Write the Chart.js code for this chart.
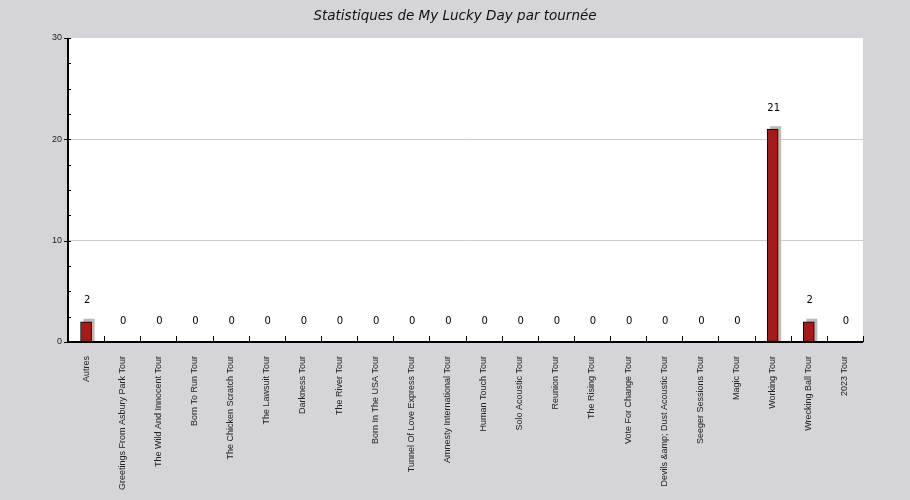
<!DOCTYPE html>
<html>
<head>
<meta charset="utf-8">
<script src="https://cdn.jsdelivr.net/npm/chart.js@4/dist/chart.umd.min.js"></script>
<style>
  html, body { margin: 0; padding: 0; background: #d5d4d9; }
  canvas { display: block; }
</style>
</head>
<body>
<canvas id="canvas" width="910" height="500"></canvas>
<script>
const tours = [
    'Autres', 'Greetings From Asbury Park Tour', 'The Wild And Innocent Tour', 'Born To Run Tour',
    'The Chicken Scratch Tour', 'The Lawsuit Tour', 'Darkness Tour', 'The River Tour',
    'Born In The USA Tour', 'Tunnel Of Love Express Tour', 'Amnesty International Tour',
    'Human Touch Tour', 'Solo Acoustic Tour', 'Reunion Tour', 'The Rising Tour',
    'Vote For Change Tour', 'Devils &amp; Dust Acoustic Tour', 'Seeger Sessions Tour',
    'Magic Tour', 'Working Tour', 'Wrecking Ball Tour', '2023 Tour'
];
const plays = [2, 0, 0, 0, 0, 0, 0, 0, 0, 0, 0, 0, 0, 0, 0, 0, 0, 0, 0, 21, 2, 0];
const yMax = 30;
const yStep = 10;
const yMinorStep = 2.5;

const tickFont = {family: 'Liberation Sans', size: 9};

// white plot area + small ticks + axis lines
const plotDecor = {
    id: 'plotDecor',
    beforeDraw: (chart) => {
        const {ctx, chartArea: a} = chart;
        ctx.save();
        ctx.fillStyle = '#ffffff';
        ctx.fillRect(a.left, a.top, a.right - a.left, a.bottom - a.top);
        ctx.restore();
    },
    afterDraw: (chart) => {
        const {ctx, chartArea: a} = chart;
        const x = chart.scales.x;
        const y = chart.scales.y;
        ctx.save();
        ctx.strokeStyle = '#000';
        ctx.lineWidth = 1;
        ctx.beginPath();
        // minor y ticks (inside)
        for (let v = 0; v <= yMax; v += yMinorStep) {
            const py = Math.round(y.getPixelForValue(v)) + 0.5;
            ctx.moveTo(a.left, py);
            ctx.lineTo(a.left + 3, py);
        }
        // major y ticks (outside)
        for (let v = 0; v <= yMax; v += yStep) {
            const py = Math.round(y.getPixelForValue(v)) + 0.5;
            ctx.moveTo(a.left - 4, py);
            ctx.lineTo(a.left, py);
        }
        // x ticks between categories (inside)
        for (let i = 0; i <= tours.length; i++) {
            const px = Math.round(x.getPixelForValue(i - 0.5)) + 0.5;
            ctx.moveTo(px, a.bottom);
            ctx.lineTo(px, a.bottom - 6);
        }
        ctx.stroke();
        ctx.lineWidth = 2;
        ctx.beginPath();
        ctx.moveTo(a.left, a.top);
        ctx.lineTo(a.left, a.bottom);
        ctx.lineTo(a.right, a.bottom);
        ctx.stroke();
        ctx.restore();
    }
};

// grey offset block behind each non-zero bar
const barShadow = {
    id: 'barShadow',
    beforeDatasetsDraw: (chart) => {
        const ctx = chart.ctx;
        const meta = chart.getDatasetMeta(0);
        ctx.save();
        ctx.fillStyle = '#bbbbbb';
        meta.data.forEach((bar, i) => {
            if (!plays[i]) return;
            const w = bar.width;
            ctx.fillRect(bar.x - w / 2 + 3, bar.y - 3, w, bar.base - bar.y + 3);
        });
        ctx.restore();
    }
};

// value labels above bars
const valueLabels = {
    id: 'valueLabels',
    afterDatasetsDraw: (chart) => {
        const ctx = chart.ctx;
        const meta = chart.getDatasetMeta(0);
        ctx.save();
        ctx.fillStyle = '#000';
        ctx.font = '10px "DejaVu Sans"';
        ctx.textAlign = 'center';
        ctx.textBaseline = 'middle';
        meta.data.forEach((bar, i) => {
            ctx.fillText(String(plays[i]), bar.x + 1, bar.y - 21);
        });
        ctx.restore();
    }
};

const ctx = document.getElementById('canvas').getContext('2d');
new Chart(ctx, {
    type: 'bar',
    data: {
        labels: tours,
        datasets: [{
            data: plays,
            backgroundColor: '#a8191a',
            borderColor: '#000000',
            borderWidth: 1,
            borderSkipped: false,
            barThickness: 11
        }]
    },
    options: {
        responsive: false,
        animation: false,
        devicePixelRatio: 1,
        layout: {padding: 0},
        plugins: {
            legend: {display: false},
            tooltip: {enabled: false},
            title: {
                display: true,
                text: 'Statistiques de My Lucky Day par tournée',
                color: '#111',
                font: {family: 'DejaVu Sans', size: 13.5, style: 'italic', weight: 'normal', lineHeight: 1.2},
                padding: {top: 8, bottom: 13.8}
            }
        },
        scales: {
            x: {
                grid: {display: false},
                border: {display: false},
                ticks: {
                    color: '#222',
                    font: tickFont,
                    minRotation: 90,
                    maxRotation: 90,
                    autoSkip: false,
                    padding: 6
                },
                afterFit: (scale) => { scale.height = 158; }
            },
            y: {
                min: 0,
                max: yMax,
                grid: {
                    color: (c) => (c.tick.value === 0 || c.tick.value === yMax) ? 'rgba(0,0,0,0)' : '#cccccc',
                    drawTicks: false
                },
                border: {display: false},
                ticks: {
                    stepSize: yStep,
                    color: '#222',
                    font: tickFont,
                    padding: 6
                },
                afterFit: (scale) => { scale.width = 68; }
            },
            // empty right margin so the title centres on the whole canvas
            yRight: {
                position: 'right',
                display: true,
                grid: {display: false},
                border: {display: false},
                ticks: {display: false},
                afterFit: (scale) => { scale.width = 47; }
            }
        }
    },
    plugins: [plotDecor, barShadow, valueLabels]
});
</script>
</body>
</html>
